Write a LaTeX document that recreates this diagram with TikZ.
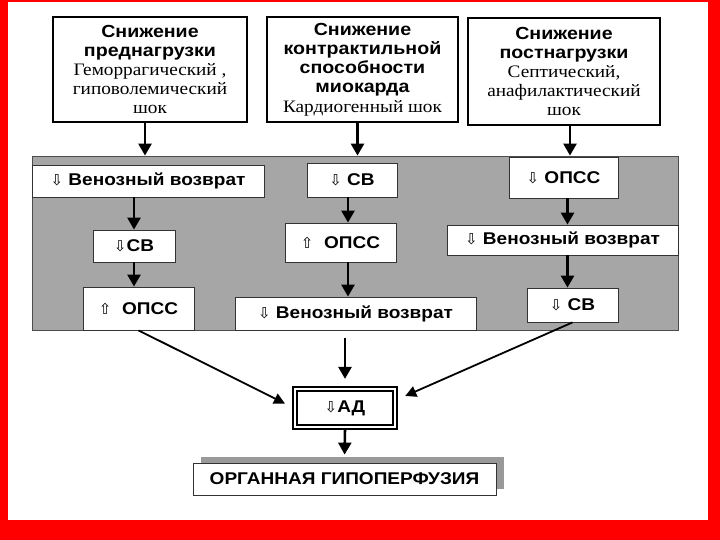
\documentclass[tikz,border=0pt]{standalone}
\usepackage{fontspec}
\setmainfont{Liberation Sans}
\newfontfamily\hdfont[FakeStretch=1.12]{Liberation Sans}
\newfontfamily\rmtext[FakeStretch=1.1]{Liberation Serif}
\newfontfamily\arrowfont{DejaVu Sans}
\usetikzlibrary{arrows.meta, shadows}

\newcommand{\arrdown}{{\arrowfont\mdseries\fontsize{15}{15}\selectfont ⇩}}
\newcommand{\arrup}{{\arrowfont\mdseries\fontsize{15}{15}\selectfont ⇧}}
\newcommand{\subtxt}[1]{{\rmtext\mdseries #1}}

\begin{document}
\begin{tikzpicture}[
    x=1pt, y=1pt,
    cause/.style={draw, line width=2.5pt, fill=white, inner sep=0pt, align=center, font=\fontsize{17.5}{19.2}\selectfont\hdfont\bfseries},
    effect/.style={draw=black!80, line width=0.8pt, fill=white, inner sep=0pt, align=center, font=\fontsize{17}{19}\selectfont\hdfont\bfseries},
    band/.style={draw=black!70, fill=black!35, line width=0.8pt, inner sep=0pt},
    arrow/.style={-{Triangle[length=12pt,width=13pt]}, line width=2.6pt},
    slant/.style={-{Triangle[length=11pt,width=11pt]}, line width=1.8pt}
]

\useasboundingbox (0,0) rectangle (720,540);
\fill[red] (0,0) rectangle (720,540);
\fill[white] (8,20) rectangle (708,538);

\node[cause, minimum width=194, minimum height=105] (pre) at (150,470.5) {Снижение\\преднагрузки\\\subtxt{Геморрагический ,}\\\subtxt{гиповолемический}\\\subtxt{шок}};
\node[cause, minimum width=191, minimum height=105] (contr) at (362.5,470.5) {Снижение\\контрактильной\\способности\\миокарда\\\subtxt{Кардиогенный шок}};
\node[cause, minimum width=192, minimum height=107] (post) at (564,468.5) {Снижение\\постнагрузки\\\subtxt{Септический,}\\\subtxt{анафилактический}\\\subtxt{шок}};

\node[band, minimum width=646, minimum height=174] (band) at (355,297) {};

\node[effect, minimum width=232, minimum height=32] (ven1) at (148,359) {\arrdown\ Венозный возврат};
\node[effect, minimum width=90, minimum height=34] (sv1) at (352,360) {\arrdown\ СВ};
\node[effect, minimum width=109, minimum height=41] (ops1) at (563.5,362.5) {\arrdown\ ОПСС};

\node[effect, minimum width=82, minimum height=32] (sv2) at (134,294) {\arrdown СВ};
\node[effect, minimum width=111, minimum height=39] (ops2) at (340.5,297.5) {\arrup\ \ ОПСС};
\node[effect, minimum width=231, minimum height=30] (ven2) at (562.5,300) {\arrdown\ Венозный возврат};

\node[effect, minimum width=111, minimum height=43] (ops3) at (138.5,231.5) {\arrup\ \ ОПСС};
\node[effect, minimum width=241, minimum height=33] (ven3) at (355.5,226.5) {\arrdown\ Венозный возврат};
\node[effect, minimum width=91, minimum height=34] (sv3) at (572.5,235) {\arrdown\ СВ};

\node[effect, draw=black, line width=2.2pt, double, double distance=1.4pt, minimum width=100, minimum height=38] (ad) at (345,132) {\arrdown АД};
\node[effect, draw=black!80, minimum width=303, minimum height=32,
      drop shadow={shadow xshift=8pt, shadow yshift=6pt, fill=black!40, opacity=1}] (organ) at (344.5,61) {ОРГАННАЯ ГИПОПЕРФУЗИЯ};

\draw[arrow] ([xshift=-5pt]pre.south) -- ([xshift=-5pt]pre.south |- band.north);
\draw[arrow] ([xshift=-5pt]contr.south) -- ([xshift=-5pt]contr.south |- band.north);
\draw[arrow] ([xshift=6pt]post.south) -- ([xshift=6pt]post.south |- band.north);

\draw[arrow] (sv2.north |- ven1.south) -- (sv2.north);
\draw[arrow] (sv2.south) -- (sv2.south |- ops3.north);
\draw[arrow] ([xshift=-4pt]sv1.south) -- ([xshift=-4pt]sv1.south |- ops2.north);
\draw[arrow] ([xshift=-4pt]sv1.south |- ops2.south) -- ([xshift=-4pt]sv1.south |- ven3.north);
\draw[arrow] ([xshift=4pt]ops1.south) -- ([xshift=4pt]ops1.south |- ven2.north);
\draw[arrow] ([xshift=5pt]ven2.south) -- ([xshift=5pt]ven2.south |- sv3.north);

\draw[slant, shorten >=10pt] (ops3.south) -- (ad.west);
\draw[slant, shorten >=10pt] (sv3.south) -- ([yshift=8pt]ad.east);
\draw[arrow, shorten <=8pt, shorten >=9pt] (ad.north |- ven3.south) -- (ad.north);
\draw[arrow, shorten >=8pt] (ad.south) -- (organ.north);

\end{tikzpicture}
\end{document}
